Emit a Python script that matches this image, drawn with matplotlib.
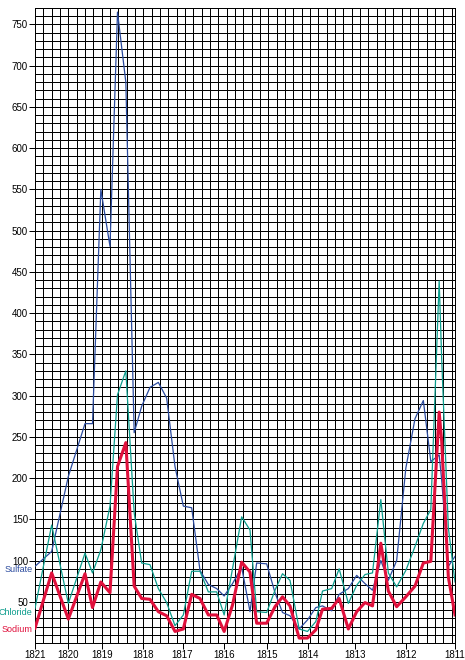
import matplotlib
matplotlib.use("Agg")
import matplotlib.pyplot as plt
import numpy as np

# sample positions along the time axis (in grid cells, 1821 on the left)
pos = [0.0, 2.0, 4.0, 6.0, 6.9, 7.9, 9.0, 9.9, 10.9, 11.9,
       12.8, 13.8, 14.8, 15.8, 16.8, 17.8, 18.8, 19.8, 20.8, 21.8,
       22.7, 23.7, 24.8, 25.8, 26.6, 27.8, 28.8, 29.7, 30.6, 31.7,
       32.7, 33.7, 34.5, 35.6, 36.5, 37.6, 38.6, 39.6, 40.5, 41.5,
       42.4, 43.4, 44.5, 45.6, 46.6, 47.5, 48.5, 48.8, 49.6, 50.4]

sodium = [18, 85, 29, 84, 43, 74, 61, 214, 243, 69,
          54, 53, 38, 33, 14, 17, 59, 54, 34, 34,
          14, 46, 98, 86, 24, 24, 44, 56, 45, 6,
          6, 16, 41, 42, 54, 17, 38, 49, 45, 121,
          63, 44, 56, 69, 97, 99, 280, 245, 80, 34]

chloride = [42, 143, 48, 109, 85, 113, 166, 301, 330, 158,
            97, 95, 66, 49, 21, 34, 87, 87, 62, 62,
            34, 90, 153, 137, 38, 37, 64, 84, 76, 17,
            14, 26, 63, 66, 90, 48, 70, 83, 85, 174,
            85, 68, 88, 117, 145, 162, 439, 345, 140, 74]

sulfate = [93, 111, 202, 266, 266, 550, 481, 765, 680, 255,
           287, 310, 316, 297, 214, 166, 164, 88, 71, 66,
           57, 72, 92, 38, 97, 96, 61, 37, 33, 17,
           28, 43, 45, 39, 59, 66, 82, 72, 64, 100,
           76, 100, 212, 272, 294, 220, 228, 198, 93, 105]

year_pos = [0, 4, 8, 13, 17.7, 22.7, 27.8, 32.8, 38.4, 44.5, 50.4]
year_labels = ['1821', '1820', '1819', '1818', '1817', '1816',
               '1815', '1814', '1813', '1812', '1811']

c_sulfate = '#2a4a9e'
c_chloride = '#0b9c8c'
c_sodium = '#e0103c'

plt.rcParams['font.family'] = ['Liberation Sans Narrow', 'Liberation Sans', 'DejaVu Sans']

fig = plt.figure(figsize=(4.65, 6.6), dpi=100)
ax = fig.add_axes([35/465, 17/660, 420/465, 635/660])

xmax = 50.4
ymax = 770
ax.set_xlim(0, xmax)
ax.set_ylim(0, ymax)

px = 0.72  # one pixel in points

# the dense grid
for gx in np.arange(1, 51):
    ax.axvline(gx, color='black', lw=px, antialiased=False, zorder=1)
for gy in np.arange(10, ymax, 10):
    ax.axhline(gy, color='black', lw=px, antialiased=False, zorder=1)

ax.plot(pos, sulfate, color=c_sulfate, lw=0.9, zorder=3)
ax.plot(pos, chloride, color=c_chloride, lw=0.9, zorder=4)
ax.plot(pos, sodium, color=c_sodium, lw=2.2, zorder=5)

# series names at the left end of each line
ax.annotate('Sulfate', (0, sulfate[0]), xytext=(-2, -2.5), textcoords='offset points',
            ha='right', va='center', color=c_sulfate, fontsize=6.5, annotation_clip=False)
ax.annotate('Chloride', (0, chloride[0]), xytext=(-2, -3), textcoords='offset points',
            ha='right', va='center', color=c_chloride, fontsize=6.5, annotation_clip=False)
ax.annotate('Sodium', (0, sodium[0]), xytext=(-2, -1), textcoords='offset points',
            ha='right', va='center', color=c_sodium, fontsize=6.5, annotation_clip=False)

ax.set_yticks(np.arange(50, 751, 50))
ax.set_xticks(year_pos)
ax.set_xticklabels(year_labels)
ax.tick_params(axis='both', length=4, width=px, color='black', labelsize=7, pad=1)

for s in ax.spines.values():
    s.set_color('black')
    s.set_linewidth(px)
    s.set_antialiased(False)

fig.savefig('out.png', dpi=100)
